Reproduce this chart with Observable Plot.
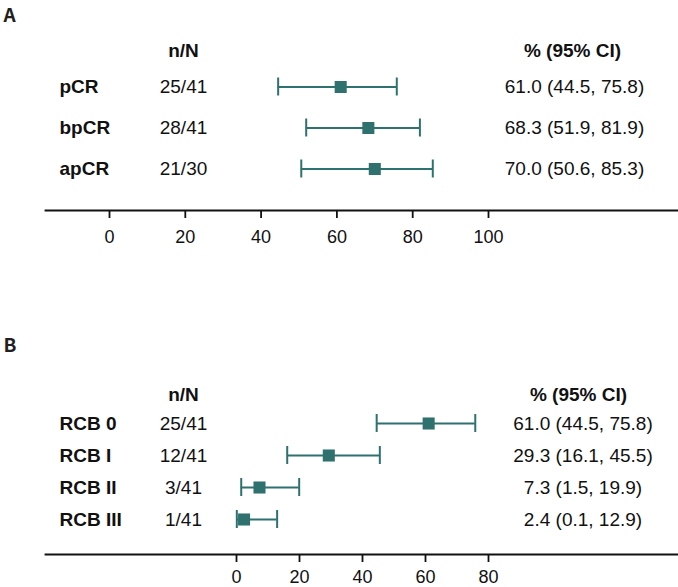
<!DOCTYPE html>
<html>
<head>
<meta charset="utf-8">
<script src="https://cdn.jsdelivr.net/npm/d3@7"></script>
<script src="https://cdn.jsdelivr.net/npm/@observablehq/plot@0.6"></script>
<style>
  html, body { margin: 0; padding: 0; background: #fff; }
  #chart svg { display: block; }
</style>
</head>
<body>
<div id="chart"></div>
<script>
// ---- Panel A data ----
const aLabels = ["pCR", "bpCR", "apCR"];
const aCounts = ["25/41", "28/41", "21/30"];
const aEst = [61.0, 68.3, 70.0];
const aLow = [44.5, 51.9, 50.6];
const aHigh = [75.8, 81.9, 85.3];
const aTicks = [0, 20, 40, 60, 80, 100];

// ---- Panel B data ----
const bLabels = ["RCB 0", "RCB I", "RCB II", "RCB III"];
const bCounts = ["25/41", "12/41", "3/41", "1/41"];
const bEst = [61.0, 29.3, 7.3, 2.4];
const bLow = [44.5, 16.1, 1.5, 0.1];
const bHigh = [75.8, 45.5, 19.9, 12.9];
const bTicks = [0, 20, 40, 60, 80];

const teal = "#2e716e";
const ink = "#111111";
const font = "'Liberation Sans', Arial, Helvetica, sans-serif";

function rows(labels, counts, est, low, high) {
  return labels.map((label, i) => ({
    label, count: counts[i], est: est[i], low: low[i], high: high[i],
    ci: `${est[i].toFixed(1)} (${low[i].toFixed(1)}, ${high[i].toFixed(1)})`
  }));
}

function panel(cfg) {
  const data = rows(cfg.labels, cfg.counts, cfg.est, cfg.low, cfg.high);
  const ml = 45;
  return Plot.plot({
    width: 678,
    height: cfg.height,
    marginLeft: ml,
    marginRight: 0,
    marginTop: 0,
    marginBottom: cfg.height - cfg.axisY,
    style: {fontFamily: font, fontSize: "18px", color: ink, background: "#fff"},
    x: {domain: cfg.domain, range: cfg.xRange, axis: null},
    y: {type: "band", domain: cfg.labels, range: cfg.yRange, padding: 0, axis: null},
    marks: [
      Plot.frame({anchor: "bottom", stroke: ink, strokeWidth: 1.8}),
      Plot.axisX({ticks: cfg.ticks, anchor: "bottom", tickSize: 8, tickPadding: cfg.tickPad,
        fontSize: 18, strokeWidth: 1.8, label: null, tickFormat: d => String(d)}),
      // panel letter
      Plot.text([cfg.letter], {frameAnchor: "top-left", dx: -ml + 3, dy: cfg.letterTop,
        lineAnchor: "top", textAnchor: "start", fontWeight: "bold", fontSize: 19,
        fontFamily: "'Noto Sans CJK SC', 'Noto Sans', sans-serif", fill: "#231f20"}),
      // headers
      Plot.text(["n/N"], {frameAnchor: "top-left", dx: cfg.countX - ml, dy: cfg.headerY,
        textAnchor: "middle", fontWeight: "bold", fontSize: 19, fill: ink}),
      Plot.text(["% (95% CI)"], {frameAnchor: "top-left", dx: cfg.ciHeadX - ml, dy: cfg.headerY,
        textAnchor: "middle", fontWeight: "bold", fontSize: 19, fill: ink}),
      // row labels and columns
      Plot.text(data, {y: "label", text: "label", frameAnchor: "left", dx: 59 - ml,
        textAnchor: "start", fontWeight: "bold", fontSize: 19, fill: ink}),
      Plot.text(data, {y: "label", text: "count", frameAnchor: "left", dx: cfg.countX - ml,
        textAnchor: "middle", fontSize: 19, fill: ink}),
      Plot.text(data, {y: "label", text: "ci", frameAnchor: "left", dx: cfg.ciX - ml,
        textAnchor: "middle", fontSize: 19, fill: ink}),
      // confidence intervals
      Plot.ruleY(data, {y: "label", x1: "low", x2: "high", stroke: teal, strokeWidth: 2}),
      Plot.tickX(data, {x: "low", y: "label", stroke: teal, strokeWidth: 2,
        inset: cfg.capInset}),
      Plot.tickX(data, {x: "high", y: "label", stroke: teal, strokeWidth: 2,
        inset: cfg.capInset}),
      Plot.dot(data, {x: "est", y: "label", symbol: "square", r: 6.8, fill: teal, stroke: null})
    ]
  });
}

const A = panel({
  letter: "A", labels: aLabels, counts: aCounts, est: aEst, low: aLow, high: aHigh,
  ticks: aTicks, domain: [0, 100], xRange: [109, 488],
  height: 290, axisY: 210, yRange: [66, 189.5], tickPad: 12,
  letterTop: 8, headerY: 43, countX: 183, ciHeadX: 572, ciX: 574, capInset: 11.5
});
const B = panel({
  letter: "B", labels: bLabels, counts: bCounts, est: bEst, low: bLow, high: bHigh,
  ticks: bTicks, domain: [0, 80], xRange: [236, 488],
  height: 297, axisY: 264, yRange: [115.3, 246.4], tickPad: 8,
  letterTop: 48, headerY: 96.5, countX: 183, ciHeadX: 578, ciX: 582.5, capInset: 7
});
document.getElementById("chart").append(A, B);
</script>
</body>
</html>
